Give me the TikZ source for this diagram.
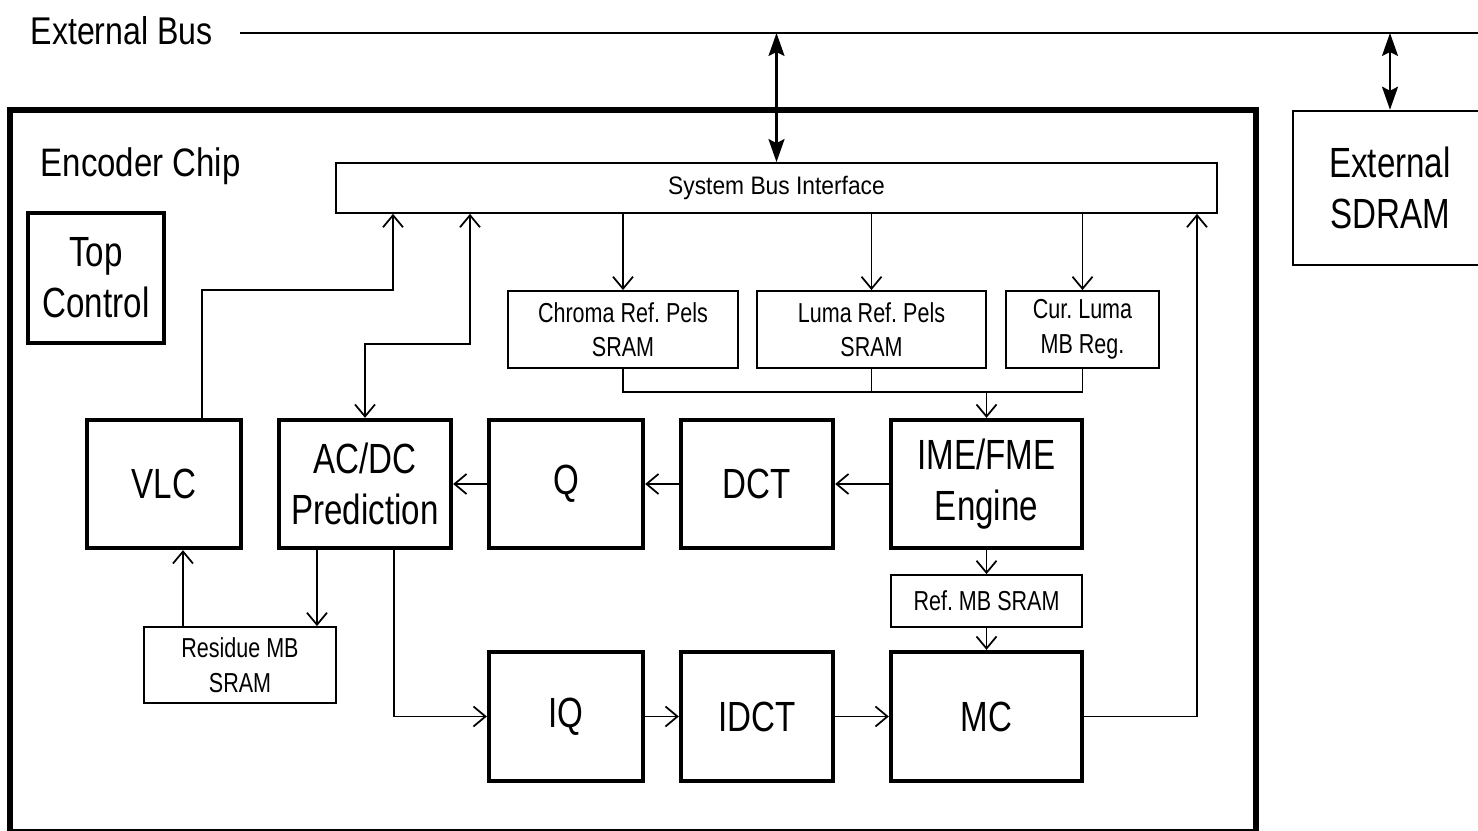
\documentclass[tikz,border=0pt]{standalone}
\usepackage{fontspec}
\setmainfont{Liberation Sans}[FakeStretch=0.785]
\newfontfamily\headfont{Liberation Sans}[FakeStretch=0.83]
\newfontfamily\busfont{Liberation Sans}[FakeStretch=0.9]
\usetikzlibrary{arrows.meta}
\frenchspacing

\begin{document}
\begin{tikzpicture}[
    x=0.01cm, y=-0.01cm,
    unit/.style={rectangle, draw, line width=1.2pt, inner sep=0pt, align=center, font=\fontsize{12}{14.5}\selectfont},
    mem/.style={rectangle, draw, line width=0.5pt, inner sep=0pt, align=center, font=\fontsize{7.8}{9.8}\selectfont},
    flow/.style={-{Straight Barb[length=1.2mm, width=2mm]}, line width=0.5pt},
    duplex/.style={{Straight Barb[length=1.2mm, width=2mm]}-{Straight Barb[length=1.2mm, width=2mm]}, line width=0.5pt},
    busio/.style={{Stealth[length=2.3mm, width=1.6mm, inset=0.4mm]}-{Stealth[length=2.3mm, width=1.6mm, inset=0.4mm]}, line width=0.6pt}
]
    \useasboundingbox (0,0) rectangle (1478,831);

    % outside the chip
    \node[anchor=base west, inner sep=0pt, font=\headfont\fontsize{11}{13}\selectfont] (xbus) at (30,45) {External Bus};
    \coordinate (busL) at (240,33);
    \coordinate (busR) at (1478,33);
    \draw[line width=0.5pt] (busL) -- (busR);
    \node[rectangle, draw, line width=0.7pt, inner sep=0pt, minimum width=1.94cm, minimum height=1.54cm, align=center, font=\fontsize{12}{14.5}\selectfont] (sdram) at (1390,188) {External\\SDRAM};

    % chip
    \node[draw, line width=1.7pt, minimum width=12.46cm, minimum height=7.35cm] (chip) at (633,477.5) {};
    \draw[line width=0.5pt] (chip.west |- 0,830) -- (chip.east |- 0,830);
    \node[anchor=base west, inner sep=0pt, font=\headfont\fontsize{11.3}{13}\selectfont] (chipname) at (40,177) {Encoder Chip};
    \node[unit, line width=1pt, minimum width=1.36cm, minimum height=1.3cm] (top) at (96,278) {Top\\Control};

    \node[mem, font=\busfont\fontsize{7.2}{8}\selectfont, minimum width=8.81cm, minimum height=0.5cm] (sbi) at (776.5,188) {System Bus Interface};
    \node[mem, minimum width=2.3cm, minimum height=0.77cm] (chroma) at (623,329.5) {Chroma Ref. Pels\\SRAM};
    \node[mem, minimum width=2.29cm, minimum height=0.77cm] (luma) at (871.5,329.5) {Luma Ref. Pels\\SRAM};
    \node[mem, minimum width=1.53cm, minimum height=0.77cm] (cur) at (1082.5,329.5) {Cur. Luma\\MB Reg.};

    \node[unit, minimum width=1.54cm, minimum height=1.28cm] (vlc) at (164,484) {VLC};
    \node[unit, minimum width=1.72cm, minimum height=1.28cm] (acdc) at (365,484) {AC/DC\\Prediction};
    \node[unit, minimum width=1.54cm, minimum height=1.28cm] (q) at (566,484) {Q};
    \node[unit, minimum width=1.52cm, minimum height=1.28cm] (dct) at (757,484) {DCT};
    \node[unit, minimum width=1.91cm, minimum height=1.28cm] (ime) at (986.5,484) {IME/FME\\Engine};

    \node[mem, minimum width=1.92cm, minimum height=0.76cm] (res) at (240,665) {Residue MB\\SRAM};
    \node[mem, minimum width=1.91cm, minimum height=0.52cm] (refmb) at (986.5,601) {Ref. MB SRAM};

    \node[unit, minimum width=1.54cm, minimum height=1.29cm] (iq) at (566,716.5) {IQ};
    \node[unit, minimum width=1.52cm, minimum height=1.29cm] (idct) at (757,716.5) {IDCT};
    \node[unit, minimum width=1.91cm, minimum height=1.29cm] (mc) at (986.5,716.5) {MC};

    % bus connections
    \draw[busio] (sbi.north) -- (sbi.north |- busR);
    \draw[busio] (sdram.north) -- (sdram.north |- busR);

    % reference data in
    \draw[flow] (chroma.north |- sbi.south) -- (chroma.north);
    \draw[flow] (luma.north |- sbi.south) -- (luma.north);
    \draw[flow] (cur.north |- sbi.south) -- (cur.north);
    \coordinate (join) at (987,392);
    \draw[line width=0.5pt] (chroma.south) -- (chroma.south |- join) -| (cur.south);
    \draw[line width=0.5pt] (luma.south) -- (luma.south |- join);
    \draw[flow] (ime.north |- join) -- (ime.north);

    % forward path
    \draw[flow] (ime) -- (dct);
    \draw[flow] (dct) -- (q);
    \draw[flow] (q) -- (acdc);
    \draw[flow] ([xshift=-0.48cm]acdc.south) -- ([xshift=-0.48cm]acdc.south |- res.north);
    \draw[flow] ([xshift=-0.57cm]res.north) -- ([xshift=-0.57cm]res.north |- vlc.south);
    \draw[flow] ([xshift=0.38cm]vlc.north) -- ++(0,-128) -| (sbi.south -| 393,0);
    \draw[duplex] (sbi.south -| 470,0) -- ++(0,130) -| (acdc.north);

    % reconstruction path
    \draw[flow] (ime) -- (refmb);
    \draw[flow] (refmb) -- (mc);
    \draw[flow] ([xshift=0.29cm]acdc.south) |- (iq.west);
    \draw[flow] (iq) -- (idct);
    \draw[flow] (idct) -- (mc);
    \draw[flow] (mc.east) -| (sbi.south -| 1197,0);

\end{tikzpicture}
\end{document}
